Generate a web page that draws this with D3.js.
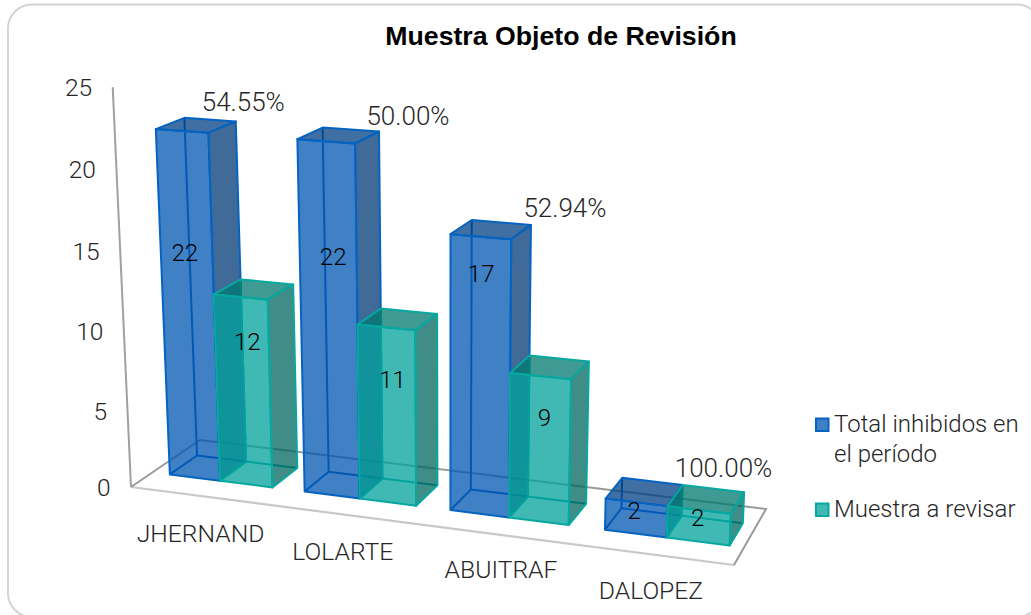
<!DOCTYPE html>
<html>
<head>
<meta charset="utf-8">
<script src="https://cdnjs.cloudflare.com/ajax/libs/d3/7.8.5/d3.min.js"></script>
<style>
  body { margin: 0; background: #fff; overflow: hidden; }
  text { font-family: Roboto, "Liberation Sans", sans-serif; font-weight: 300; }
</style>
</head>
<body>
<div id="grafica"></div>
<script>
const categorias = ["JHERNAND", "LOLARTE", "ABUITRAF", "DALOPEZ"];
const series = ["Total inhibidos en el período", "Muestra a revisar"];
const totalInhibidos = [22, 22, 17, 2];
const muestra = [12, 11, 9, 2];
const porcentajes = ["54.55%", "50.00%", "52.94%", "100.00%"];
const ticks = [0, 5, 10, 15, 20, 25];

// ajustes de etiquetas (altura en unidades del eje, como Excel las dejó)
const alturaEtiquetaTotal = [14.4, 14.9, 14.7, 1.35];
const alturaEtiquetaMuestra = [9.1, 7.7, 6.4, 1.4];
const despEtiquetaTotal = [-5, 2, -2, -4];
const despEtiquetaMuestra = [2, 3, 2, -3];
const despPorcentaje = [[7.5, -19], [29, -16], [34, -17], [41, -17]];
const despCategoria = [[1, 46], [1, 46], [7, 44], [-4, 44]];

const width = 1031;
const height = 615;

const svg = d3
  .select("#grafica")
  .append("svg")
  .attr("width", width)
  .attr("height", height);

// marco
svg
  .append("rect")
  .attr("x", 8)
  .attr("y", 4.5)
  .attr("width", 1033)
  .attr("height", 612.5)
  .attr("rx", 24)
  .attr("fill", "#fff")
  .attr("stroke", "#d4d4d4")
  .attr("stroke-width", 2);

svg
  .append("text")
  .attr("x", 561)
  .attr("y", 45)
  .attr("text-anchor", "middle")
  .attr("font-size", "26.7px")
  .attr("style", "font-family:'Liberation Sans',sans-serif;font-weight:bold")
  .attr("fill", "#000")
  .text("Muestra Objeto de Revisión");

// piso en pantalla: (frente-izq, frente-der, fondo-der, fondo-izq)
const piso = [[131, 487], [734, 565], [766, 509], [200, 440]];

function homografia(q) {
  let [x0, y0] = q[0], [x1, y1] = q[1], [x2, y2] = q[2], [x3, y3] = q[3];
  let dx1 = x1 - x2, dx2 = x3 - x2, sx = x0 - x1 + x2 - x3;
  let dy1 = y1 - y2, dy2 = y3 - y2, sy = y0 - y1 + y2 - y3;
  let den = dx1 * dy2 - dx2 * dy1;
  let g = (sx * dy2 - dx2 * sy) / den;
  let h = (dx1 * sy - sx * dy1) / den;
  let a = x1 - x0 + g * x1, b = x3 - x0 + h * x3;
  let d = y1 - y0 + g * y1, e = y3 - y0 + h * y3;
  return (u, v) => {
    let w = g * u + h * v + 1;
    return [(a * u + b * v + x0) / w, (d * u + e * v + y0) / w];
  };
}
const alPiso = homografia(piso);

// eje de valores (las unidades crecen un poco hacia arriba)
const y = d3.scalePow().exponent(1.03).domain([0, 25]).range([0, 25]);
// perspectiva a lo largo del eje de categorias
const largo = d3.scalePow().exponent(1.04).domain([0, 1]).range([0, 1]);

function proyecta(u, d, valor) {
  let [fx, fy] = alPiso(largo(u), d);
  let alto = y(valor);
  return [fx + (fx - 449) * 0.0023 * alto, fy - alto * (15.75 + (fy - 474) * 0.0185)];
}

const x0 = d3
  .scaleBand()
  .domain(categorias)
  .range([0.007, 1.007])
  .paddingInner(0.23)
  .paddingOuter(0.115);
const x1 = d3.scaleBand().domain(series).range([0, x0.bandwidth()]);
const fondo = d3.scaleLinear().domain([0, 1]).range([0.3, 0.7]);

const linea = d3.line();

// piso y eje
const ejes = svg.append("g").attr("fill", "none");
ejes
  .append("path")
  .attr("d", linea([proyecta(0, 0, 0), proyecta(1, 0, 0)]))
  .attr("stroke", "#c8c8c8")
  .attr("stroke-width", 2.2);
ejes
  .append("path")
  .attr("d", linea([proyecta(1, 0, 0), proyecta(1, 1, 0), proyecta(0, 1, 0), proyecta(0, 0, 0)]))
  .attr("stroke", "#9a9a9a")
  .attr("stroke-width", 2);
ejes
  .append("path")
  .attr("d", linea([proyecta(0, 0, 0), proyecta(0, 0, 25)]))
  .attr("stroke", "#a0a0a0")
  .attr("stroke-width", 2);

svg
  .selectAll("text.tick")
  .data(ticks)
  .enter()
  .append("text")
  .attr("class", "tick")
  .attr("x", (d) => proyecta(0, 0, d)[0] - 20.5)
  .attr("y", (d) => proyecta(0, 0, d)[1] + 9)
  .attr("text-anchor", "end")
  .attr("font-size", "24.5px")
  .attr("fill", "#262626")
  .text((d) => d);

// colores: frente, lado, tapa, borde
const colores = {
  [series[0]]: { frente: "rgb(0,85,176)", lado: "rgb(0,58,119)", tapa: "rgb(0,64,132)", borde: "#0563c1" },
  [series[1]]: { frente: "rgb(0,160,155)", lado: "rgb(0,103,96)", tapa: "rgb(0,120,112)", borde: "#06a89f" },
};

function dibujaBarra(cat, serie, valor) {
  let u0 = x0(cat) + x1(serie);
  let u1 = u0 + x1.bandwidth();
  let d0 = fondo(0), d1 = fondo(1);
  let c = colores[serie];
  let g = svg.append("g").attr("stroke-linejoin", "round");

  // aristas ocultas
  g.append("path")
    .attr("d", linea([proyecta(u0, d0, 0), proyecta(u0, d1, 0), proyecta(u1, d1, 0)]))
    .attr("fill", "none")
    .attr("stroke", c.borde)
    .attr("stroke-width", 2);
  g.append("path")
    .attr("d", linea([proyecta(u0, d1, 0), proyecta(u0, d1, valor)]))
    .attr("fill", "none")
    .attr("stroke", c.borde)
    .attr("stroke-width", 2);

  let caras = [
    { pts: [[u1, d0, 0], [u1, d1, 0], [u1, d1, valor], [u1, d0, valor]], color: c.lado },
    { pts: [[u0, d0, valor], [u1, d0, valor], [u1, d1, valor], [u0, d1, valor]], color: c.tapa },
    { pts: [[u0, d0, 0], [u1, d0, 0], [u1, d0, valor], [u0, d0, valor]], color: c.frente },
  ];
  g.selectAll("path.cara")
    .data(caras)
    .enter()
    .append("path")
    .attr("class", "cara")
    .attr("d", (d) => linea(d.pts.map((p) => proyecta(p[0], p[1], p[2]))) + "Z")
    .attr("fill", (d) => d.color)
    .attr("fill-opacity", 0.75)
    .attr("stroke", c.borde)
    .attr("stroke-width", 2);
}

categorias.forEach((cat, i) => {
  dibujaBarra(cat, series[0], totalInhibidos[i]);
  dibujaBarra(cat, series[1], muestra[i]);
});

function etiquetaValor(cat, serie, valor, altura, desp) {
  let u = x0(cat) + x1(serie) + x1.bandwidth() / 2;
  let p = proyecta(u, 0.35, altura);
  svg
    .append("text")
    .attr("x", p[0] + desp)
    .attr("y", p[1] + 9)
    .attr("text-anchor", "middle")
    .attr("font-size", "24px")
    .attr("fill", "#000")
    .text(valor);
}

categorias.forEach((cat, i) => {
  etiquetaValor(cat, series[0], totalInhibidos[i], alturaEtiquetaTotal[i], despEtiquetaTotal[i]);
  etiquetaValor(cat, series[1], muestra[i], alturaEtiquetaMuestra[i], despEtiquetaMuestra[i]);

  let tope = proyecta(x0(cat) + x1.bandwidth(), fondo(1), totalInhibidos[i]);
  svg
    .append("text")
    .attr("x", tope[0] + despPorcentaje[i][0])
    .attr("y", tope[1] + despPorcentaje[i][1] + 9)
    .attr("text-anchor", "middle")
    .attr("font-size", "26px")
    .attr("fill", "#262626")
    .text(porcentajes[i]);

  let base = proyecta(x0(cat) + x0.bandwidth() / 2, 0, 0);
  svg
    .append("text")
    .attr("x", base[0] + despCategoria[i][0])
    .attr("y", base[1] + despCategoria[i][1])
    .attr("text-anchor", "middle")
    .attr("font-size", "24.7px")
    .attr("fill", "#262626")
    .text(cat);
});

// leyenda
const leyenda = [
  { serie: series[0], lineas: ["Total inhibidos en", "el período"], y: 425 },
  { serie: series[1], lineas: ["Muestra a revisar"], y: 510 },
];
leyenda.forEach((l) => {
  let c = colores[l.serie];
  svg
    .append("rect")
    .attr("x", 816)
    .attr("y", l.y - 6.5)
    .attr("width", 12.5)
    .attr("height", 12.5)
    .attr("fill", c.frente)
    .attr("fill-opacity", 0.75)
    .attr("stroke", c.borde)
    .attr("stroke-width", 2);
  l.lineas.forEach((t, i) => {
    svg
      .append("text")
      .attr("x", 834)
      .attr("y", l.y + 7 + i * 30)
      .attr("font-size", "24px")
      .attr("fill", "#262626")
      .text(t);
  });
});
</script>
</body>
</html>
